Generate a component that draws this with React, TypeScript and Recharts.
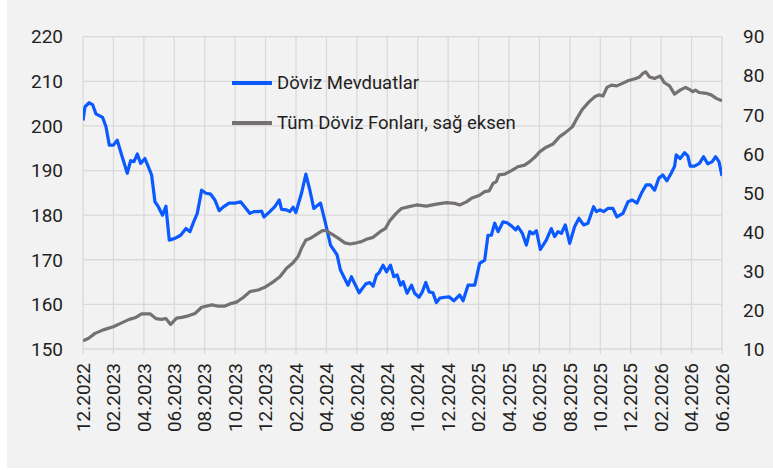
import React from 'react';
import { LineChart, Line, XAxis, YAxis, CartesianGrid, Legend } from 'recharts';

// x positions are months elapsed since 12.2022
const xTickLabels = [
  '12.2022', '02.2023', '04.2023', '06.2023', '08.2023', '10.2023', '12.2023',
  '02.2024', '04.2024', '06.2024', '08.2024', '10.2024', '12.2024',
  '02.2025', '04.2025', '06.2025', '08.2025', '10.2025', '12.2025',
  '02.2026', '04.2026', '06.2026',
];

const leftTicks = [150, 160, 170, 180, 190, 200, 210, 220];
const rightTicks = [10, 20, 30, 40, 50, 60, 70, 80, 90];

const depositName = 'Döviz Mevduatlar';
const fundName = 'Tüm Döviz Fonları, sağ eksen';

const depositMonths = [
  0, 0.13, 0.41, 0.64, 0.85, 1.29, 1.51, 1.73, 2.0, 2.25, 2.54, 2.91, 3.13, 3.35, 3.57, 3.79,
  4.07, 4.29, 4.51, 4.73, 4.95, 5.23, 5.45, 5.67, 6.04, 6.42, 6.77, 7.03, 7.24, 7.51, 7.8,
  8.08, 8.39, 8.67, 8.95, 9.21, 9.6, 9.98, 10.36, 10.66, 10.97, 11.23, 11.51, 11.74, 11.89,
  12.28, 12.61, 12.9, 13.05, 13.38, 13.6, 13.81, 13.99, 14.36, 14.65, 14.91, 15.17, 15.61,
  15.89, 16.27, 16.7, 16.92, 17.42, 17.64, 18.15, 18.59, 18.85, 19.07, 19.29, 19.46, 19.72,
  19.95, 20.21, 20.43, 20.65, 20.87, 21.04, 21.3, 21.59, 21.8, 22.09, 22.3, 22.53, 22.75,
  23.0, 23.23, 23.45, 23.78, 24.06, 24.37, 24.76, 24.98, 25.31, 25.75, 26.07, 26.4, 26.62,
  26.84, 27.06, 27.28, 27.61, 27.87, 28.16, 28.44, 28.59, 28.88, 29.14, 29.36, 29.58, 29.8,
  30.06, 30.45, 30.78, 31.0, 31.22, 31.44, 31.7, 31.99, 32.31, 32.6, 32.9, 33.19, 33.56,
  33.74, 34.0, 34.22, 34.5, 34.83, 35.09, 35.49, 35.82, 36.1, 36.41, 36.7, 37.02, 37.28,
  37.57, 37.85, 38.11, 38.38, 38.66, 38.88, 38.99, 39.25, 39.54, 39.75, 39.91, 40.19, 40.52,
  40.78, 41.07, 41.36, 41.58, 41.8, 42.0,
];
const depositValues = [
  201.2, 204.3, 205.2, 204.7, 202.7, 201.9, 199.8, 195.7, 195.7, 196.8, 193.5, 189.4, 192.2,
  192.0, 193.7, 191.6, 192.7, 190.9, 189.0, 183.0, 181.9, 180.0, 182.0, 174.4, 174.8, 175.5,
  177.0, 176.3, 178.2, 180.4, 185.6, 184.9, 184.7, 183.4, 181.0, 181.8, 182.7, 182.7, 183.0,
  181.7, 180.4, 180.8, 180.8, 180.9, 179.6, 180.8, 181.9, 183.4, 181.3, 181.2, 180.8, 181.8,
  180.6, 184.9, 189.2, 185.6, 181.5, 182.7, 178.9, 173.3, 171.1, 167.7, 164.3, 166.2, 162.6,
  164.6, 164.9, 164.1, 166.6, 167.1, 168.8, 167.3, 168.8, 166.2, 166.6, 164.3, 165.1, 162.5,
  164.3, 162.5, 161.6, 162.8, 164.9, 162.8, 162.6, 160.4, 161.4, 161.6, 161.7, 160.8, 162.1,
  160.8, 164.3, 164.3, 169.2, 169.9, 175.5, 175.5, 178.2, 176.3, 178.5, 178.3, 177.6, 176.7,
  177.4, 175.9, 173.3, 176.3, 175.8, 176.5, 172.3, 174.4, 177.0, 175.2, 176.3, 175.9, 177.8,
  173.7, 177.4, 179.3, 177.8, 178.2, 181.9, 180.8, 181.2, 180.8, 181.5, 181.5, 179.6, 180.4,
  183.0, 183.4, 182.7, 184.9, 186.8, 186.8, 185.6, 188.3, 189.0, 187.7, 189.4, 190.9, 193.5,
  192.7, 194.0, 193.3, 191.0, 191.0, 191.6, 193.1, 191.5, 192.0, 193.1, 192.0, 188.8,
];

const fundMonths = [
  0, 0.35, 0.79, 1.33, 1.99, 2.54, 3.04, 3.42, 3.85, 4.4, 4.79, 5.17, 5.45, 5.76, 6.15, 6.48,
  6.92, 7.36, 7.8, 8.45, 8.89, 9.33, 9.77, 10.09, 10.53, 10.97, 11.51, 11.95, 12.5, 12.94,
  13.38, 13.81, 14.14, 14.36, 14.65, 14.91, 15.17, 15.45, 15.74, 15.96, 16.33, 16.77, 17.21,
  17.54, 17.98, 18.3, 18.63, 19.07, 19.51, 19.88, 20.17, 20.6, 20.93, 21.37, 21.92, 22.57,
  23.23, 23.89, 24.43, 24.76, 25.2, 25.53, 26.07, 26.4, 26.69, 26.95, 27.17, 27.34, 27.72,
  28.16, 28.59, 29.03, 29.36, 29.69, 30.01, 30.45, 30.89, 31.33, 31.66, 32.16, 32.47, 32.82,
  33.26, 33.63, 33.91, 34.18, 34.44, 34.73, 35.09, 35.49, 35.82, 36.33, 36.58, 36.8, 36.98,
  37.24, 37.57, 37.79, 37.94, 38.22, 38.55, 38.88, 39.25, 39.6, 39.86, 40.08, 40.25, 40.52,
  40.96, 41.29, 41.62, 42.0,
];
const fundValues = [
  12.1, 12.7, 14.0, 14.9, 15.7, 16.7, 17.6, 18.0, 19.0, 19.0, 17.8, 17.6, 17.8, 16.3, 17.9,
  18.1, 18.5, 19.1, 20.7, 21.3, 21.0, 21.0, 21.7, 22.0, 23.2, 24.7, 25.1, 25.8, 27.2, 28.5,
  30.7, 32.1, 33.7, 35.8, 37.9, 38.3, 38.9, 39.6, 40.3, 40.3, 39.5, 38.4, 37.2, 36.9, 37.2,
  37.5, 38.1, 38.6, 40.0, 40.9, 42.9, 44.8, 46.0, 46.4, 46.9, 46.6, 47.1, 47.5, 47.3, 46.9,
  47.7, 48.6, 49.4, 50.3, 50.5, 52.4, 52.9, 54.6, 54.8, 55.7, 56.7, 57.1, 58.0, 59.1, 60.5,
  61.7, 62.5, 64.4, 65.3, 66.9, 69.1, 71.4, 73.3, 74.6, 75.1, 74.8, 77.0, 77.6, 77.4, 78.1,
  78.7, 79.3, 79.7, 80.6, 81.0, 79.7, 79.3, 79.7, 79.9, 78.2, 77.4, 75.3, 76.3, 77.0, 76.5,
  75.9, 76.3, 75.7, 75.5, 75.1, 74.2, 73.6,
];

const depositData = depositMonths.map((m, i) => ({ m, v: depositValues[i] }));
const fundData = fundMonths.map((m, i) => ({ m, v: fundValues[i] }));
const xTicks = xTickLabels.map((_, i) => i * 2);

const BLUE = '#0a5aff';
const GRAY = '#767171';
const GRID = '#d9d9d9';
const TEXT = '#1f1f1f';
const FONT = 'Roboto, "Noto Sans", sans-serif';

const XTick = (props: any) => {
  const { x, y, payload } = props;
  const label = xTickLabels[Math.round(payload.value / 2)];
  return (
    <g transform={`translate(${x},${y})`}>
      <text
        transform="rotate(-90)"
        textAnchor="end"
        dy="0.355em"
        fill={TEXT}
        fontSize={19}
        fontFamily={FONT}
      >
        {label}
      </text>
    </g>
  );
};

const LegendContent = (props: any) => {
  const items = props.payload || [];
  return (
    <div style={{ fontFamily: FONT, fontSize: 18.5, color: TEXT }}>
      {items.map((it: any, i: number) => (
        <div key={i} style={{ display: 'flex', alignItems: 'center', height: 40 }}>
          <span
            style={{
              display: 'inline-block',
              width: 40,
              height: 3.5,
              background: it.color,
              marginRight: 5,
            }}
          />
          <span style={{ whiteSpace: 'nowrap' }}>{it.value}</span>
        </div>
      ))}
    </div>
  );
};

export default function App() {
  return (
    <div
      style={{
        position: 'fixed',
        left: 7,
        top: 0,
        width: 766,
        height: 468,
        background: '#f2f2f2',
        fontFamily: FONT,
      }}
    >
      <LineChart width={766} height={468} margin={{ top: 36.7, right: 0, bottom: 0, left: 0 }}>
        <CartesianGrid yAxisId="left" stroke={GRID} strokeWidth={1.3} />
        <XAxis
          dataKey="m"
          type="number"
          domain={[0, 42]}
          ticks={xTicks}
          interval={0}
          height={119}
          axisLine={false}
          tickLine={{ stroke: GRID, strokeWidth: 1.3 }}
          tickSize={5}
          tickMargin={9}
          tick={<XTick />}
          allowDataOverflow
        />
        <YAxis
          yAxisId="left"
          orientation="left"
          domain={[150, 220]}
          ticks={leftTicks}
          interval={0}
          width={76}
          axisLine={false}
          tickLine={false}
          tickSize={6}
          tickMargin={14}
          tick={{ fill: TEXT, fontSize: 19, fontFamily: FONT }}
        />
        <YAxis
          yAxisId="right"
          orientation="right"
          domain={[10, 90]}
          ticks={rightTicks}
          interval={0}
          width={51}
          axisLine={false}
          tickLine={false}
          tickSize={6}
          tickMargin={15}
          tick={{ fill: TEXT, fontSize: 19, fontFamily: FONT, textAnchor: 'start' }}
        />
        <Legend
          layout="vertical"
          align="center"
          verticalAlign="middle"
          wrapperStyle={{ left: 225, top: 63, width: 340 }}
          content={<LegendContent />}
        />
        <Line
          yAxisId="left"
          data={depositData}
          dataKey="v"
          name={depositName}
          type="linear"
          stroke={BLUE}
          strokeWidth={3.2}
          strokeLinejoin="round"
          dot={false}
          activeDot={false}
          isAnimationActive={false}
        />
        <Line
          yAxisId="right"
          data={fundData}
          dataKey="v"
          name={fundName}
          type="linear"
          stroke={GRAY}
          strokeWidth={3.2}
          strokeLinejoin="round"
          dot={false}
          activeDot={false}
          isAnimationActive={false}
        />
      </LineChart>
    </div>
  );
}
